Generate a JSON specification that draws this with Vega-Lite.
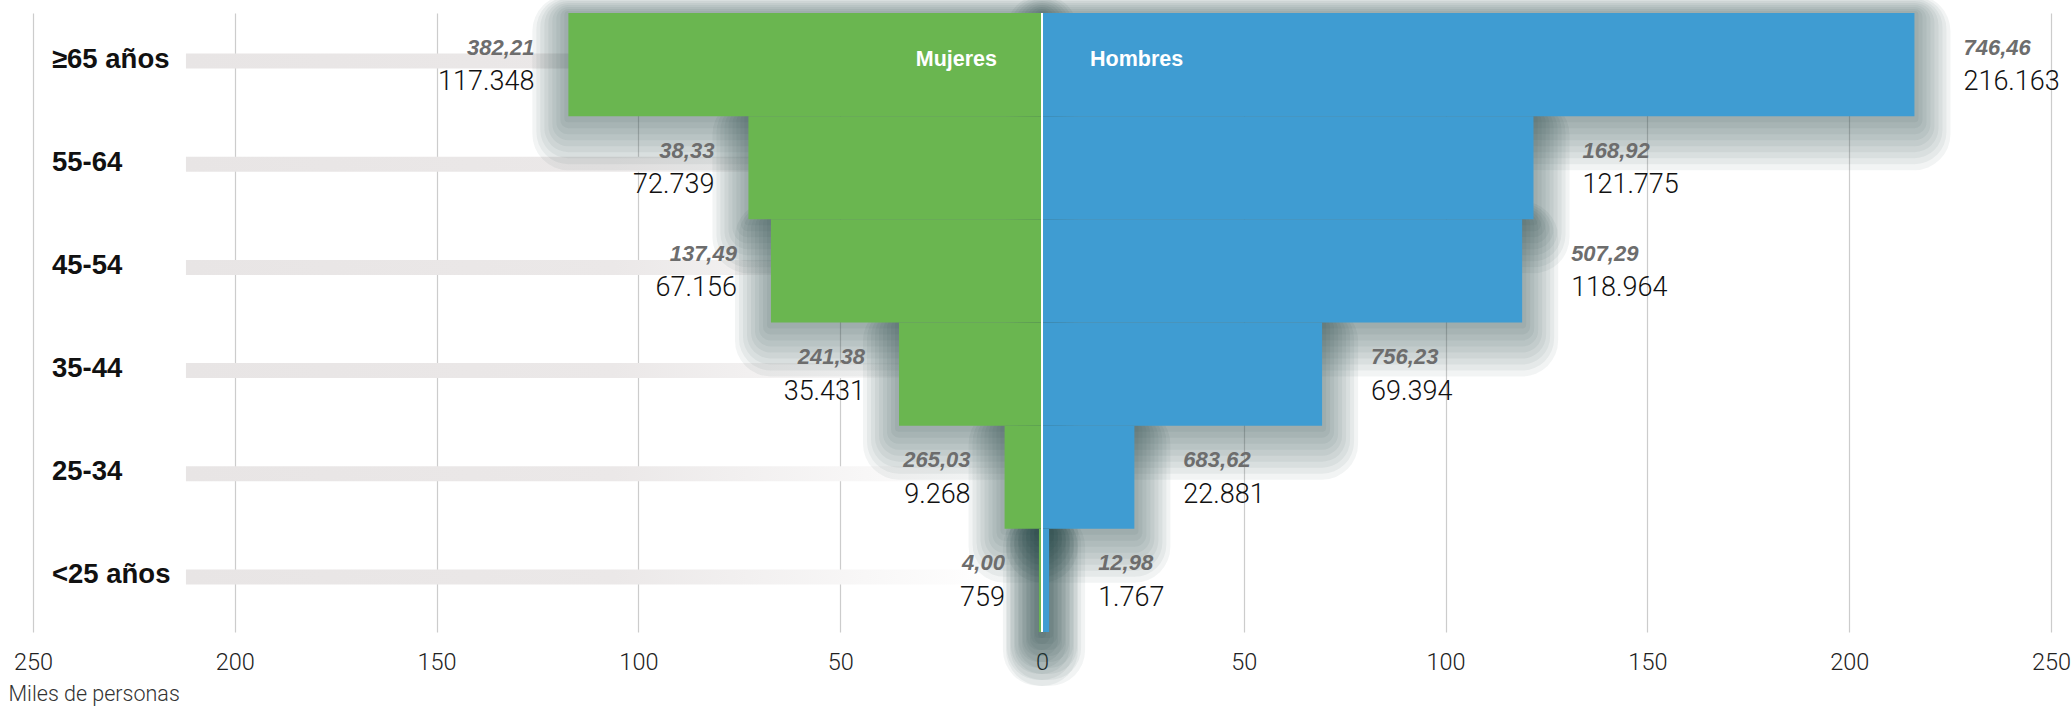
{
  "$schema": "https://vega.github.io/schema/vega-lite/v6.json",
  "width": 2018,
  "height": 619,
  "autosize": {"type": "none"},
  "padding": {"left": 33, "top": 13, "right": 20, "bottom": 76},
  "background": "white",
  "config": {"view": {"stroke": null}, "font": "Liberation Sans, Arial, sans-serif"},
  "data": {
    "values": [
      {"edad": "≥65 años", "sexo": "Mujeres", "valor": -117.348, "etiqueta": "117.348", "var": "382,21"},
      {"edad": "55-64", "sexo": "Mujeres", "valor": -72.739, "etiqueta": "72.739", "var": "38,33"},
      {"edad": "45-54", "sexo": "Mujeres", "valor": -67.156, "etiqueta": "67.156", "var": "137,49"},
      {"edad": "35-44", "sexo": "Mujeres", "valor": -35.431, "etiqueta": "35.431", "var": "241,38"},
      {"edad": "25-34", "sexo": "Mujeres", "valor": -9.268, "etiqueta": "9.268", "var": "265,03"},
      {"edad": "<25 años", "sexo": "Mujeres", "valor": -0.759, "etiqueta": "759", "var": "4,00"},
      {"edad": "≥65 años", "sexo": "Hombres", "valor": 216.163, "etiqueta": "216.163", "var": "746,46"},
      {"edad": "55-64", "sexo": "Hombres", "valor": 121.775, "etiqueta": "121.775", "var": "168,92"},
      {"edad": "45-54", "sexo": "Hombres", "valor": 118.964, "etiqueta": "118.964", "var": "507,29"},
      {"edad": "35-44", "sexo": "Hombres", "valor": 69.394, "etiqueta": "69.394", "var": "756,23"},
      {"edad": "25-34", "sexo": "Hombres", "valor": 22.881, "etiqueta": "22.881", "var": "683,62"},
      {"edad": "<25 años", "sexo": "Hombres", "valor": 1.767, "etiqueta": "1.767", "var": "12,98"}
    ]
  },
  "encoding": {
    "y": {
      "field": "edad",
      "type": "nominal",
      "scale": {"domain": ["≥65 años", "55-64", "45-54", "35-44", "25-34", "<25 años"], "paddingInner": 0, "paddingOuter": 0},
      "axis": null
    }
  },
  "layer": [
    {
      "transform": [{"filter": "datum.sexo == 'Mujeres'"}],
      "mark": {
        "type": "bar",
        "height": 15,
        "yOffset": -3.5,
        "fill": {"gradient": "linear", "x1": 0, "x2": 1, "y1": 0, "y2": 0,
          "stops": [
            {"offset": 0, "color": "#e8e5e5"},
            {"offset": 0.5, "color": "#ebe8e8"},
            {"offset": 0.95, "color": "#ffffff"}
          ]}
      },
      "encoding": {
        "x": {
          "datum": -212.1,
          "type": "quantitative",
          "scale": {"domain": [-250, 250], "nice": false, "zero": false},
          "axis": {
            "values": [-250, -200, -150, -100, -50, 0, 50, 100, 150, 200, 250],
            "labelExpr": "format(abs(datum.value), 'd')",
            "grid": true,
            "gridColor": "#cccccc",
            "gridWidth": 1.2,
            "domain": false,
            "ticks": false,
            "labelFontSize": 23.5,
            "labelFont": "Roboto, Liberation Sans, sans-serif",
            "labelFontWeight": 300,
            "labelColor": "#222222",
            "labelPadding": 18,
            "labelFlush": false,
            "title": "Miles de personas",
            "titleAnchor": "start",
            "titleAlign": "left",
            "titleBaseline": "middle",
            "titleX": -25,
            "titleY": 62,
            "titleFontSize": 21.5,
            "titleFont": "Roboto, Liberation Sans, sans-serif",
            "titleFontWeight": 300,
            "titleColor": "#333333",
            "orient": "bottom",
            "zindex": 0
          }
        },
        "x2": {"datum": 0}
      }
    },
    {"mark": {"type": "bar", "yOffset": 18, "fill": "transparent", "stroke": "#1e3c44", "strokeOpacity": 0.06, "strokeWidth": 72, "strokeJoin": "round"}, "encoding": {"x": {"field": "valor", "type": "quantitative"}}},
    {"mark": {"type": "bar", "yOffset": 16, "fill": "transparent", "stroke": "#1e3c44", "strokeOpacity": 0.06, "strokeWidth": 64, "strokeJoin": "round"}, "encoding": {"x": {"field": "valor", "type": "quantitative"}}},
    {"mark": {"type": "bar", "yOffset": 14, "fill": "transparent", "stroke": "#1e3c44", "strokeOpacity": 0.06, "strokeWidth": 56, "strokeJoin": "round"}, "encoding": {"x": {"field": "valor", "type": "quantitative"}}},
    {"mark": {"type": "bar", "yOffset": 12, "fill": "transparent", "stroke": "#1e3c44", "strokeOpacity": 0.06, "strokeWidth": 48, "strokeJoin": "round"}, "encoding": {"x": {"field": "valor", "type": "quantitative"}}},
    {"mark": {"type": "bar", "yOffset": 10, "fill": "transparent", "stroke": "#1e3c44", "strokeOpacity": 0.06, "strokeWidth": 40, "strokeJoin": "round"}, "encoding": {"x": {"field": "valor", "type": "quantitative"}}},
    {"mark": {"type": "bar", "yOffset": 8, "fill": "transparent", "stroke": "#1e3c44", "strokeOpacity": 0.06, "strokeWidth": 32, "strokeJoin": "round"}, "encoding": {"x": {"field": "valor", "type": "quantitative"}}},
    {"mark": {"type": "bar", "yOffset": 6, "fill": "transparent", "stroke": "#1e3c44", "strokeOpacity": 0.06, "strokeWidth": 24, "strokeJoin": "round"}, "encoding": {"x": {"field": "valor", "type": "quantitative"}}},
    {"mark": {"type": "bar", "yOffset": 4, "fill": "transparent", "stroke": "#1e3c44", "strokeOpacity": 0.06, "strokeWidth": 16, "strokeJoin": "round"}, "encoding": {"x": {"field": "valor", "type": "quantitative"}}},
    {"mark": {"type": "bar", "yOffset": 2, "fill": "transparent", "stroke": "#1e3c44", "strokeOpacity": 0.06, "strokeWidth": 8, "strokeJoin": "round"}, "encoding": {"x": {"field": "valor", "type": "quantitative"}}},
    {
      "mark": {"type": "bar"},
      "encoding": {
        "x": {"field": "valor", "type": "quantitative"},
        "color": {
          "field": "sexo",
          "type": "nominal",
          "scale": {"domain": ["Mujeres", "Hombres"], "range": ["#6ab650", "#3f9cd2"]},
          "legend": null
        }
      }
    },
    {
      "mark": {"type": "rule", "color": "#ffffff", "strokeWidth": 2},
      "encoding": {"x": {"datum": 0}, "y": null}
    },
    {
      "transform": [{"filter": "datum.sexo == 'Mujeres'"}],
      "mark": {"type": "text", "align": "right", "baseline": "middle", "dx": -34, "dy": -17, "fontSize": 22, "fontStyle": "italic", "fontWeight": "bold", "color": "#6d6d6d"},
      "encoding": {"x": {"field": "valor", "type": "quantitative"}, "text": {"field": "var"}}
    },
    {
      "transform": [{"filter": "datum.sexo == 'Hombres'"}],
      "mark": {"type": "text", "align": "left", "baseline": "middle", "dx": 49, "dy": -17, "fontSize": 22, "fontStyle": "italic", "fontWeight": "bold", "color": "#6d6d6d"},
      "encoding": {"x": {"field": "valor", "type": "quantitative"}, "text": {"field": "var"}}
    },
    {
      "transform": [{"filter": "datum.sexo == 'Mujeres'"}],
      "mark": {"type": "text", "align": "right", "baseline": "middle", "dx": -34, "dy": 17.5, "fontSize": 27, "font": "Roboto, Liberation Sans, sans-serif", "fontWeight": 300, "color": "#111111"},
      "encoding": {"x": {"field": "valor", "type": "quantitative"}, "text": {"field": "etiqueta"}}
    },
    {
      "transform": [{"filter": "datum.sexo == 'Hombres'"}],
      "mark": {"type": "text", "align": "left", "baseline": "middle", "dx": 49, "dy": 17.5, "fontSize": 27, "font": "Roboto, Liberation Sans, sans-serif", "fontWeight": 300, "color": "#111111"},
      "encoding": {"x": {"field": "valor", "type": "quantitative"}, "text": {"field": "etiqueta"}}
    },
    {
      "transform": [{"filter": "datum.sexo == 'Mujeres'"}],
      "mark": {"type": "text", "align": "left", "baseline": "middle", "dy": -5, "fontSize": 27.5, "fontWeight": "bold", "color": "#111111"},
      "encoding": {"x": {"datum": -245.3}, "text": {"field": "edad"}}
    },
    {
      "transform": [{"filter": "datum.sexo == 'Mujeres' && datum.edad == '≥65 años'"}],
      "mark": {"type": "text", "text": "Mujeres", "align": "right", "baseline": "middle", "dy": -5, "fontSize": 21.5, "fontWeight": "bold", "color": "#ffffff"},
      "encoding": {"x": {"datum": -11.15}}
    },
    {
      "transform": [{"filter": "datum.sexo == 'Hombres' && datum.edad == '≥65 años'"}],
      "mark": {"type": "text", "text": "Hombres", "align": "left", "baseline": "middle", "dy": -5, "fontSize": 21.5, "fontWeight": "bold", "color": "#ffffff"},
      "encoding": {"x": {"datum": 11.9}}
    }
  ]
}
